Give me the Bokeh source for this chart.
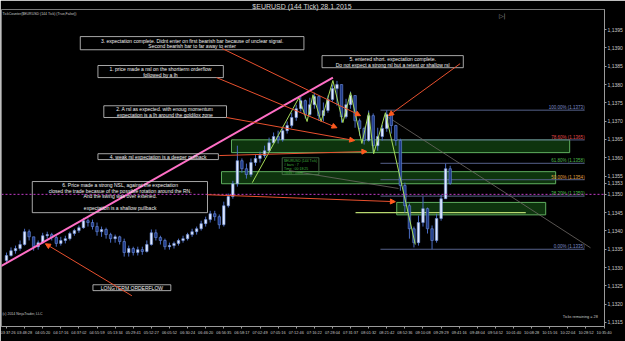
from bokeh.plotting import figure
from bokeh.models import (ColumnDataSource, Range1d, FixedTicker, CustomJSTickFormatter,
                          Arrow, NormalHead, Span)
from bokeh.embed import file_html
from bokeh.resources import INLINE
from bokeh.core.properties import value

FONT = "Liberation Sans"

# ---------------- data (144 tick bars, EURUSD 28.1.2015) ----------------
first_open = 1.13319
closes = [1.13333, 1.13346, 1.13352, 1.13363, 1.13398, 1.13384, 1.13357, 1.13368, 1.13387, 1.13390,
          1.13382, 1.13366, 1.13374, 1.13379, 1.13393, 1.13401, 1.13409, 1.13428, 1.13423, 1.13412,
          1.13398, 1.13404, 1.13390, 1.13379, 1.13384, 1.13371, 1.13341, 1.13352, 1.13341, 1.13349,
          1.13344, 1.13363, 1.13395, 1.13382, 1.13374, 1.13357, 1.13360, 1.13366, 1.13374, 1.13379,
          1.13390, 1.13398, 1.13406, 1.13420, 1.13431, 1.13447, 1.13439, 1.13417, 1.13469, 1.13494,
          1.13529, 1.13592, 1.13570, 1.13554, 1.13587, 1.13598, 1.13606, 1.13619, 1.13641, 1.13658,
          1.13649, 1.13674, 1.13688, 1.13710, 1.13734, 1.13756, 1.13718, 1.13745, 1.13767, 1.13715,
          1.13729, 1.13759, 1.13789, 1.13800, 1.13712, 1.13745, 1.13770, 1.13701, 1.13680, 1.13647,
          1.13715, 1.13633, 1.13658, 1.13680, 1.13718, 1.13688, 1.13647, 1.13524, 1.13469, 1.13406,
          1.13368, 1.13423, 1.13461, 1.13406, 1.13374, 1.13434, 1.13488, 1.13570, 1.13530]
highs = [1.13341, 1.13355, 1.13360, 1.13374, 1.13406, 1.13404, 1.13384, 1.13374, 1.13395, 1.13398,
         1.13395, 1.13387, 1.13384, 1.13387, 1.13398, 1.13406, 1.13415, 1.13436, 1.13434, 1.13431,
         1.13423, 1.13412, 1.13409, 1.13395, 1.13390, 1.13387, 1.13379, 1.13360, 1.13357, 1.13357,
         1.13357, 1.13374, 1.13404, 1.13404, 1.13387, 1.13379, 1.13368, 1.13371, 1.13379, 1.13387,
         1.13395, 1.13406, 1.13412, 1.13428, 1.13439, 1.13455, 1.13455, 1.13445, 1.13480, 1.13502,
         1.13537, 1.13633, 1.13598, 1.13584, 1.13598, 1.13608, 1.13617, 1.13633, 1.13655, 1.13669,
         1.13674, 1.13685, 1.13699, 1.13723, 1.13745, 1.13767, 1.13759, 1.13764, 1.13778, 1.13770,
         1.13751, 1.13770, 1.13800, 1.13810, 1.13800, 1.13761, 1.13781, 1.13770, 1.13707, 1.13685,
         1.13729, 1.13721, 1.13682, 1.13690, 1.13730, 1.13723, 1.13690, 1.13652, 1.13532, 1.13475,
         1.13412, 1.13442, 1.13494, 1.13464, 1.13415, 1.13447, 1.13499, 1.13584, 1.13578]
lows = [1.13313, 1.13330, 1.13338, 1.13346, 1.13360, 1.13374, 1.13346, 1.13349, 1.13366, 1.13379,
        1.13374, 1.13357, 1.13360, 1.13366, 1.13374, 1.13387, 1.13395, 1.13406, 1.13412, 1.13404,
        1.13387, 1.13384, 1.13379, 1.13368, 1.13368, 1.13363, 1.13330, 1.13330, 1.13333, 1.13333,
        1.13335, 1.13341, 1.13360, 1.13374, 1.13363, 1.13349, 1.13349, 1.13352, 1.13360, 1.13368,
        1.13374, 1.13384, 1.13390, 1.13401, 1.13412, 1.13423, 1.13428, 1.13406, 1.13412, 1.13464,
        1.13488, 1.13521, 1.13559, 1.13543, 1.13548, 1.13578, 1.13587, 1.13600, 1.13614, 1.13639,
        1.13639, 1.13644, 1.13666, 1.13682, 1.13701, 1.13726, 1.13707, 1.13712, 1.13734, 1.13701,
        1.13699, 1.13723, 1.13753, 1.13742, 1.13696, 1.13707, 1.13734, 1.13682, 1.13660, 1.13636,
        1.13644, 1.13614, 1.13619, 1.13647, 1.13671, 1.13666, 1.13633, 1.13510, 1.13450, 1.13379,
        1.13355, 1.13360, 1.13412, 1.13393, 1.13350, 1.13368, 1.13428, 1.13488, 1.13526]

time_labels = ["03:37:26", "03:48:28", "04:05:20", "04:17:16", "04:37:02", "04:55:59", "05:13:34",
               "05:29:41", "05:52:27", "06:05:52", "06:30:24", "06:46:20", "06:56:35", "06:58:17",
               "07:02:49", "07:05:16", "07:12:46", "07:16:22", "07:28:04", "07:31:37", "08:01:32",
               "08:21:42", "08:52:36", "09:10:08", "09:29:29", "09:41:16", "09:48:04", "09:54:52",
               "10:01:40", "10:08:28", "10:15:16", "10:22:04", "10:28:52", "10:35:40"]
bars_per_label = 4

price_ticks = [1.1315, 1.1320, 1.1325, 1.1330, 1.1335, 1.1340, 1.1345, 1.1350, 1.1355,
               1.1360, 1.1365, 1.1370, 1.1375, 1.1380, 1.1385, 1.1390, 1.1395]
last_price = 1.1353

# zigzag swing points (bar index, price)
zz_idx = [54.3, 64.6, 66.4, 67.7, 69.5, 72.1, 74.3, 76.0, 78.5, 80.0, 81.1, 83.7, 90.3]
zz_price = [1.13532, 1.13764, 1.13699, 1.13772, 1.13699, 1.13811, 1.13696, 1.13778,
            1.13639, 1.13723, 1.13611, 1.13723, 1.13363]

# fibonacci retracement
fib_high, fib_low = 1.1373, 1.1335
fib_levels = [1.0, 0.786, 0.618, 0.5, 0.382, 0.0]
fib_colors = ["#7d8cc8", "#e04848", "#4cb84c", "#e0a040", "#4cc04c", "#7d8cc8"]
fib_x0, fib_x1 = 82.6, 127.7

# zones (supply/demand rectangles)
zone_left = [49.7, 47.5, 86.2]
zone_right = [124.4, 121.3, 119.1]
zone_top = [1.13649, 1.13562, 1.13478]
zone_bottom = [1.13614, 1.13529, 1.13444]

level_line = dict(x0=77.1, x1=114.7, price=1.1345)
rn_line = 1.1350

trend_idx = [-1.32, 72.1]
trend_price = [1.13303, 1.13819]

# ---------------- figure ----------------
p = figure(width=625, height=341, output_backend="svg", toolbar_location=None,
           x_range=Range1d(-1.10, 132.09), y_range=Range1d(1.13139, 1.14005),
           y_axis_location="right",
           min_border_left=1, min_border_right=18, min_border_top=9, min_border_bottom=15,
           background_fill_color="black", border_fill_color="black")
p.outline_line_color = "#7a7a7a"
p.grid.visible = False
p.title.text = "$EURUSD (144 Tick)  28.1.2015"
p.title.align = "center"
p.title.text_font = FONT
p.title.text_font_size = "7px"
p.title.text_font_style = "normal"
p.title.text_color = "#d8d8d8"
p.title.offset = 0
p.title.standoff = 0

# axes
ya = p.yaxis[0]
ya.ticker = FixedTicker(ticks=price_ticks + [last_price])
ya.formatter = CustomJSTickFormatter(code="return tick.toFixed(4).replace('.', ',');")
ya.major_label_text_font = FONT
ya.major_label_text_font_size = "5px"
ya.major_label_text_color = "#c8c8c8"
ya.axis_line_color = "#9a9a9a"
ya.major_tick_line_color = "#9a9a9a"
ya.major_tick_out = 2
ya.major_tick_in = 0
ya.minor_tick_line_color = None
ya.major_label_standoff = 1

xa = p.xaxis[0]
xticks = [k * bars_per_label for k in range(len(time_labels))]
xa.ticker = FixedTicker(ticks=xticks)
xa.major_label_overrides = {t: s for t, s in zip(xticks, time_labels)}
xa.major_label_text_font = FONT
xa.major_label_text_font_size = "3.9px"
xa.major_label_text_color = "#c8c8c8"
xa.axis_line_color = "#9a9a9a"
xa.major_tick_line_color = "#9a9a9a"
xa.major_tick_out = 2
xa.major_tick_in = 0
xa.minor_tick_line_color = None
xa.major_label_standoff = 1

# zones
p.quad(left=zone_left, right=zone_right, top=zone_top, bottom=zone_bottom,
       fill_color="#0f3a10", fill_alpha=0.9, line_color="#5fae5f", line_width=1)

# fib lines + labels
fib_prices = [fib_low + lv * (fib_high - fib_low) for lv in fib_levels]
p.segment(x0=[fib_x0] * 6, x1=[fib_x1] * 6, y0=fib_prices, y1=fib_prices,
          line_color="#56618a", line_width=1)
p.text(x=[fib_x1] * 6, y=fib_prices,
       text=[f"{lv*100:.2f}% ({fp:.4f})" for lv, fp in zip(fib_levels, fib_prices)],
       text_color=fib_colors, text_font=value(FONT), text_font_size=value("4.5px"),
       text_align="right", text_baseline="bottom", y_offset=0)

# round number dotted line
p.add_layout(Span(location=rn_line, dimension="width", line_color="#c23cc8",
                  line_width=1, line_dash="2 2"))

# level line
p.segment(x0=[level_line["x0"]], x1=[level_line["x1"]], y0=[level_line["price"]],
          y1=[level_line["price"]], line_color="#b8d870", line_width=1.2)

# gray helper lines
p.segment(x0=[84.4, 62.4], y0=[1.13710, 1.13565], x1=[129.0, 86.6], y1=[1.13354, 1.13516],
          line_color="#6e6a66", line_width=0.8)

# candles
opens = [first_open] + closes[:-1]
idx = list(range(len(closes)))
src = ColumnDataSource(dict(x=idx, o=opens, c=closes, h=highs, l=lows))
p.segment(x0="x", x1="x", y0="l", y1="h", source=src, line_color="#4a6cc4", line_width=1)
up = [i for i in idx if closes[i] >= opens[i]]
dn = [i for i in idx if closes[i] < opens[i]]
p.vbar(x=up, width=0.55, top=[closes[i] for i in up], bottom=[opens[i] for i in up],
       fill_color="#dfe9ff", line_color="#6f8fd8", line_width=0.6)
p.vbar(x=dn, width=0.55, top=[opens[i] for i in dn], bottom=[closes[i] for i in dn],
       fill_color="#1e3a8a", line_color="#6f8fd8", line_width=0.6)

# zigzag
p.line(zz_idx, zz_price, line_color="#a6dc5a", line_width=1)

# long-term trend line
p.line(trend_idx, trend_price, line_color="#ff6fc6", line_width=2)

# info box
p.quad(left=[60.9], right=[69.0], top=[1.13600], bottom=[1.13554],
       fill_color=None, line_color="#4c7a4c", line_width=0.8)
p.text(x=[61.3] * 4, y=[1.13592, 1.13581, 1.13570, 1.13559],
       text=["$EURUSD (144 Tick)", "# bars :     7", "Time :      00:18:25", "Ticks :   1008"],
       text_color="#3fae3f", text_font=value(FONT), text_font_size=value("3.5px"),
       text_baseline="middle")

# annotation boxes
box_l = [16.3, 20.2, 21.5, 20.2, 5.7, 69.7, 19.1]
box_r = [65.7, 47.9, 48.6, 46.8, 44.4, 100.9, 36.3]
box_t = [1.13931, 1.13852, 1.13742, 1.13611, 1.13535, 1.13879, 1.13253]
box_b = [1.13895, 1.13819, 1.13710, 1.13595, 1.13450, 1.13846, 1.13237]
p.quad(left=box_l, right=box_r, top=box_t, bottom=box_b,
       fill_color=None, line_color="#d0d0d0", line_width=0.8)

notes_x = [41.0, 41.0, 34.0, 34.0, 35.0, 35.0, 33.5, 25.1, 25.1, 25.1, 25.1, 85.3, 85.3, 27.7]
notes_y = [1.13920, 1.13904, 1.13842, 1.13827, 1.13733, 1.13718, 1.13603,
           1.13525, 1.13510, 1.13495, 1.13464, 1.13869, 1.13854, 1.13245]
notes = ["3. expectation complete. Didnt enter on first bearish bar because of unclear signal.",
         "Second bearish bar to far away to enter",
         "1. price made a nsl on the shortterm orderflow",
         "followed by a lh",
         "2. A rsl as expected. with enoug momentum",
         "expectation is a lh around the goldilox zone",
         "4. weak rsl expectation is a deeper pullback",
         "6. Price made a strong NSL, against the expectation",
         "closed the trade becasue of the possible rotation around the RN.",
         "And the swing was over extened.",
         "expectation is a shallow pullback",
         "5. entered short. expectation complete.",
         "Do not expect a strong rsl but a retest or shallow rsl",
         "LONGTERM ORDERFLOW"]
p.text(x=notes_x, y=notes_y, text=notes, text_color="#f0f0f0", text_font=value(FONT),
       text_font_size=value("5px"), text_align="center", text_baseline="middle")

# arrows
arr = ColumnDataSource(dict(
    x0=[47.7, 46.4, 48.6, 47.0, 100.2, 44.4, 27.7],
    y0=[1.13898, 1.13819, 1.13710, 1.13606, 1.13857, 1.13499, 1.13223],
    x1=[78.2, 73.0, 76.9, 79.6, 84.4, 85.9, 8.6],
    y1=[1.13715, 1.13682, 1.13647, 1.13617, 1.13715, 1.13480, 1.13365]))
p.add_layout(Arrow(end=NormalHead(size=5, fill_color="#ff5a1e", line_color="#ff5a1e"),
                   x_start="x0", y_start="y0", x_end="x1", y_end="y1", source=arr,
                   line_color="#e8502e", line_width=1))

# chart texts
p.text(x=[-0.9], y=[1.13994], text=["TickCounter($EURUSD (144 Tick) (True,False))"],
       text_color="#c8c8c8", text_font=value(FONT), text_font_size=value("3.5px"),
       text_baseline="middle")
p.text(x=[-0.9], y=[1.13173], text=["(c) 2014 NinjaTrader, LLC"],
       text_color="#c8c8c8", text_font=value(FONT), text_font_size=value("3.5px"),
       text_baseline="middle")
p.text(x=[130.6], y=[1.13166], text=["Ticks remaining = 28"],
       text_color="#c8c8c8", text_font=value(FONT), text_font_size=value("3.8px"),
       text_align="right", text_baseline="middle")
p.text(x=[109.5], y=[1.13988], text=["▷|"], text_color="#9a9a9a", text_font=value("DejaVu Sans"),
       text_font_size=value("6px"), text_align="center", text_baseline="middle")

open("out.html", "w").write(file_html(p, INLINE))
